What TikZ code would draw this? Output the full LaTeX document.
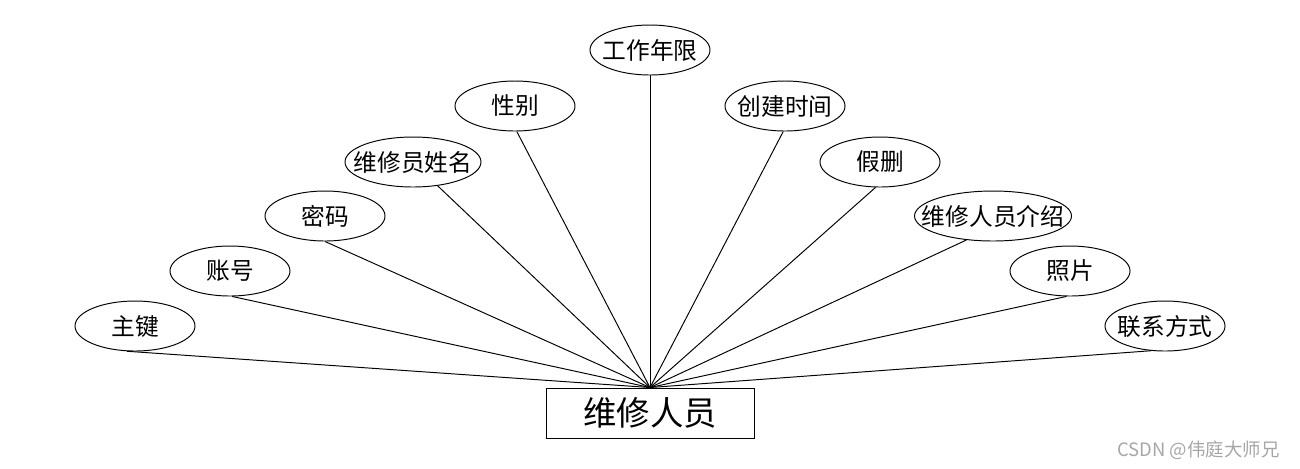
\documentclass[tikz,border=0pt]{standalone}
\usepackage{fontspec}
\setmainfont{Noto Sans CJK SC}
\usetikzlibrary{shapes.geometric}

\tikzset{
  attr/.style={draw, ellipse, inner sep=0pt, minimum height=1cm,
    font=\fontsize{13.5}{16}\selectfont},
  entity/.style={draw, rectangle, minimum width=4.16cm, minimum height=1cm,
    font=\fontsize{19}{22}\selectfont},
}

\begin{document}
\begin{tikzpicture}[x=0.02cm, y=-0.02cm, line width=0.55pt]
      \useasboundingbox (0,0) rectangle (1300,468);

      % entity box
      \node[entity] (staff) at (650,413) {维修人员};

      % attributes: name / x / y / width / anchor angle / text
      \foreach \nm/\x/\y/\w/\ang/\txt in {
          zj/135/326/120/252/主键,
          zh/230/271/120/275/账号,
          mm/325/216/120/270/密码,
          xm/413/162/136/316/维修员姓名,
          xb/515/106/120/274/性别,
          nx/650/50/120/270/工作年限,
          cj/785/106/120/266/创建时间,
          js/880/162/120/260/假删,
          jj/993/216/157/222/维修人员介绍,
          zp/1070/271/120/262/照片,
          lx/1165/326/120/240/联系方式} {
        \node[attr, minimum width=\w*0.02cm] (\nm) at (\x,\y) {\makebox[0pt]{\txt}};
        \draw (\nm.\ang) -- (staff.north);
      }

      \node[text=gray!70, font=\fontsize{10.5}{12}\selectfont, anchor=east] (mark) at (1286,450) {CSDN @伟庭大师兄};

    \end{tikzpicture}
\end{document}
